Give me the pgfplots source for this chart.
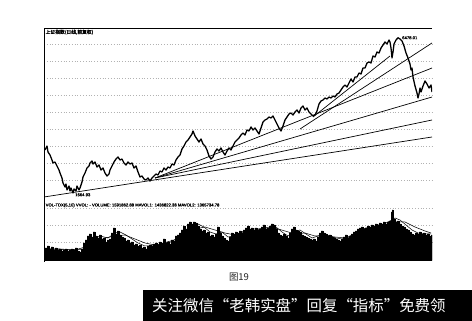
\documentclass[border=0pt]{standalone}
\usepackage{fontspec}
\usepackage{pgfplots}
\usepackage{pgfplotstable}
\pgfplotsset{compat=1.18}
\setmainfont{Liberation Sans}
\newfontfamily\cjk{Noto Sans CJK SC}
\newfontfamily\cjkb[FakeBold=1.5]{Noto Sans CJK SC}
\newfontfamily\lab[FakeBold=1]{Liberation Sans}

% daily close of the index (day, points)
\pgfplotstableread{
d p
1 2998
3 3122
4 2936
6 2843
8 2688
9 2595
11 2626
13 2502
15 2378
16 2285
18 2130
19 1975
21 1851
22 1944
23 1758
25 1882
26 1727
27 1820
29 1664.93
30 1789
32 1727
33 1882
35 1758
36 1820
38 2006
39 2161
41 2285
43 2440
45 2502
46 2595
48 2657
49 2564
51 2626
53 2471
55 2533
57 2378
59 2440
61 2285
63 2192
65 2254
66 2378
68 2502
70 2626
72 2719
74 2781
76 2688
78 2719
80 2595
82 2533
84 2626
86 2564
88 2595
90 2440
92 2502
94 2316
96 2161
98 2192
100 2099
102 2068
104 2130
106 2037
108 2130
110 2192
112 2254
114 2223
116 2347
118 2316
120 2440
122 2378
124 2471
126 2440
128 2564
130 2533
132 2688
134 2781
136 2843
138 3029
140 3122
142 3246
144 3308
146 3401
148 3494
149 3587
151 3432
153 3339
155 3246
157 3339
159 3184
161 3122
163 2998
165 2812
167 2719
169 2781
171 2936
173 3029
175 2967
177 3060
179 2936
181 2843
183 2967
185 3060
187 2998
189 3122
191 3246
193 3308
195 3370
197 3463
199 3525
201 3463
203 3618
205 3587
207 3711
209 3618
211 3680
213 3587
215 3494
217 3680
219 3866
221 3928
223 3959
225 4021
227 3990
229 4052
231 3928
233 3804
235 3680
237 3587
239 3742
241 3928
243 4021
245 4114
247 4145
249 4083
251 4176
253 4238
255 4145
257 4300
259 4362
261 4238
263 4300
265 4176
267 4114
269 4052
271 4083
273 4207
275 4424
277 4517
279 4548
281 4610
283 4579
285 4641
287 4610
289 4672
291 4641
293 4734
295 4765
297 4858
299 4951
301 5013
303 4951
305 5075
307 5199
309 5106
311 5261
313 5261
315 5385
317 5354
319 5540
321 5540
323 5695
325 5726
327 5695
329 5912
331 5881
333 6036
335 6005
337 6160
339 6253
341 6346
343 6284
345 6408
346 6346
347 6160
348 5850
349 6036
350 6284
352 6408
354 6478
356 6439
358 6377
360 6222
362 6005
364 5850
366 5664
367 5478
368 5540
369 5261
371 4982
373 4765
374 4610
375 4734
376 4920
377 4796
379 4982
381 5137
383 5044
385 4920
387 5013
388 4796
}\price

% volume (thousand hands)
\pgfplotstableread{
d v
1 756
3 882
5 693
7 819
9 630
11 756
13 630
15 693
17 567
19 630
21 693
23 567
25 630
27 693
29 630
31 756
33 567
35 504
37 693
39 1071
41 1260
43 1512
45 1638
47 1449
49 1764
51 1512
53 1386
55 1575
57 1323
59 1386
61 1134
63 1260
65 1323
67 1701
69 2016
71 1638
73 1827
75 1575
77 1449
79 1386
81 1197
83 1260
85 1071
87 1134
89 945
91 1008
93 882
95 945
97 756
99 819
101 693
103 882
105 945
107 882
109 1008
111 1071
113 945
115 1134
117 1071
119 1323
121 1071
123 1134
125 1008
127 1260
129 1197
131 1512
133 1575
135 1701
137 1890
139 2142
141 1953
143 2268
145 2394
147 2268
149 2394
151 2331
153 2142
155 1953
157 1827
159 1890
161 1701
163 1764
165 1512
167 1575
169 1449
171 1638
173 2079
175 1701
177 1512
179 1386
181 1260
183 1197
185 1449
187 1701
189 1638
191 1764
193 1701
195 1827
197 1701
199 1890
201 2016
203 2142
205 1953
207 2016
209 1890
211 2016
213 1890
215 1953
217 2079
219 2205
221 1953
223 2016
225 2142
227 2268
229 2205
231 1953
233 1701
235 1575
237 1512
239 1638
241 1512
243 1386
245 1701
247 1953
249 2079
251 1890
253 1827
255 1764
257 1575
259 1512
261 1449
263 1386
265 1323
267 1260
269 1323
271 1197
273 1449
275 1701
277 1827
279 1701
281 1638
283 1512
285 1575
287 1449
289 1386
291 1323
293 1260
295 1197
297 1323
299 1449
301 1575
303 1386
305 1512
307 1638
309 1764
311 1827
313 1953
315 2016
317 2079
319 1953
321 2016
323 2142
325 2079
327 2205
329 2142
331 2268
333 2205
335 2331
337 2268
339 2394
341 2268
343 2394
345 2457
347 3024
348 3150
349 2583
351 2394
353 2457
355 2268
357 2142
359 2079
361 1953
363 1890
365 1764
367 1638
369 1575
371 1701
373 1638
375 1764
377 1638
379 1701
381 1575
383 1638
385 1512
387 1575
388 1575
}\vol

% 5-day average volume
\pgfplotstableread{
d v
1 693
16 693
31 630
41 819
48 1260
56 1512
64 1386
71 1701
76 1764
82 1575
88 1323
94 1071
101 882
108 882
116 1008
123 1134
130 1260
136 1512
142 1890
148 2205
154 2268
160 2079
166 1764
172 1638
178 1764
184 1449
190 1512
196 1701
202 1890
208 1953
214 1953
220 2016
226 2079
232 2079
238 1764
244 1512
250 1764
256 1890
262 1638
268 1386
274 1512
280 1638
286 1512
292 1386
298 1323
304 1449
310 1638
316 1890
322 2016
328 2079
334 2205
340 2268
346 2457
351 2646
356 2520
362 2205
368 1890
374 1701
380 1638
387 1638
}\maone

% 10-day average volume
\pgfplotstableread{
d v
1 693
26 630
41 693
51 1071
61 1386
71 1512
81 1575
91 1323
101 1071
111 945
121 1071
131 1197
141 1512
151 1953
161 2079
171 1890
181 1701
191 1575
201 1764
211 1890
221 1953
231 2016
241 1827
251 1638
261 1701
271 1512
281 1512
291 1449
301 1386
311 1512
321 1764
331 2016
341 2205
351 2394
361 2394
371 2079
381 1827
387 1701
}\matwo

\pgfplotsset{
  panel/.style={
    scale only axis, width=388bp, xmin=0, xmax=388,
    axis line style={draw=none}, xtick=\empty, yticklabels={},
    major tick length=0pt, ymajorgrids,
    grid style={dash pattern=on 0.6pt off 2.2pt, black!30, line width=0.35pt},
  }
}

\begin{document}
\begin{tikzpicture}
\fill[white] (0bp,0bp) rectangle (472bp,321bp);
\useasboundingbox (0bp,0bp) rectangle (472bp,321bp);

% price panel
\begin{axis}[panel, at={(44bp,119bp)}, anchor=south west, height=174bp,
  ymin=1386, ymax=6780,
  ytick={2068,2595,3122,3649,4176,4703,5230,5757,6284}]
  \draw[black, line width=0.9pt] (rel axis cs:0,0) -- (rel axis cs:0,1) -- (rel axis cs:1,1);
  \draw[black, line width=0.9pt] (rel axis cs:0,0) -- (rel axis cs:1,0);
  \addplot[black, line width=1.3pt, line join=round] table[x=d, y=p] {\price};
  % fan of trend lines
  \addplot[black, line width=0.7pt] coordinates {(0,1541) (388,3401)};
  \addplot[black, line width=0.7pt] coordinates {(111,2130) (388,3928)};
  \addplot[black, line width=0.7pt] coordinates {(111,2130) (388,4641)};
  \addplot[black, line width=0.7pt] coordinates {(111,2130) (388,5540)};
  \addplot[black, line width=0.7pt] coordinates {(256,3649) (388,6315)};
  \addplot[black, line width=0.7pt] coordinates {(269,4021) (346,5912)};
  \node[anchor=west, inner sep=1bp, font=\lab\fontsize{4.2}{4.5}\selectfont] at (axis cs:357,6478) {6478.01};
  \node[anchor=west, inner sep=1bp, font=\lab\fontsize{4.2}{4.5}\selectfont] at (axis cs:30,1610) {1664.93};
\end{axis}

% volume panel
\begin{axis}[panel, at={(44bp,59bp)}, anchor=south west, height=60bp,
  ymin=-126, ymax=3654, ytick={1134,2205,3276}]
  \draw[black, line width=0.9pt] (rel axis cs:0,0) -- (rel axis cs:0,1);
  \draw[black, line width=0.6pt] (rel axis cs:0,0) -- (rel axis cs:1,0);
  \addplot[const plot, fill=black, draw=black, line width=0.4pt] table[x=d, y=v] {\vol} \closedcycle;
  \addplot[black, line width=0.5pt] table[x=d, y=v] {\maone};
  \addplot[black, line width=0.5pt] table[x=d, y=v] {\matwo};
\end{axis}

\node[anchor=north west, inner sep=0.5bp, font=\cjkb\fontsize{4.8}{5}\selectfont] at (45bp,292bp) {上证指数(日线,前复权)};
\node[anchor=north west, inner sep=0.5bp, font=\lab\fontsize{4.2}{4.5}\selectfont] at (45bp,118.3bp) {VOL-TDX(5,10) VVOL: - VOLUME: 1591862.88 MAVOL1: 1436822.38 MAVOL2: 1365734.78};

\node[font=\cjk\fontsize{9.5}{10}\selectfont, text=black!85] at (239bp,44bp) {图19};

\fill[black] (143bp,0bp) rectangle (472bp,31bp);
\node[anchor=west, inner sep=0pt, text=white, font=\cjk\fontsize{15.5}{16}\selectfont] at (152bp,15bp) {关注微信“老韩实盘”回复“指标”免费领};
\end{tikzpicture}
\end{document}
